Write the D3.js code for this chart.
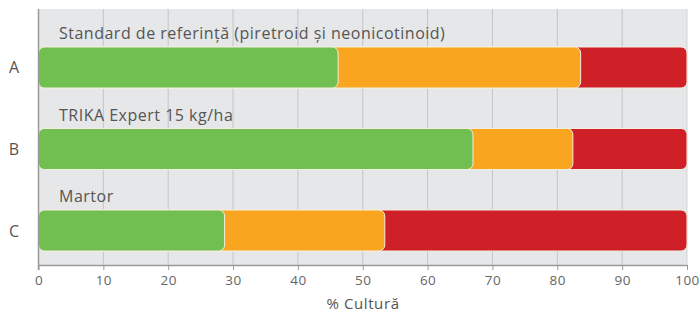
<!DOCTYPE html>
<html><head><meta charset="utf-8">
<script src="https://cdn.jsdelivr.net/npm/d3@7"></script>
<style>body{margin:0;background:#fff}svg{display:block}</style>
</head><body>
<svg id="c" width="700" height="313"></svg>
<script>
const categories = ["A","B","C"];
const labels = ["Standard de referință (piretroid și neonicotinoid)","TRIKA Expert 15 kg/ha","Martor"];
const green = [46.2, 67.0, 28.7];
const orange = [37.4, 15.4, 24.7];
const red = [16.4, 17.6, 46.6];
const ticks = [0,10,20,30,40,50,60,70,80,90,100];
const axisTitle = "% Cultură";

(function(){
const svg = d3.select("#c");
const font = "'Open Sans', sans-serif";
const L = 38.5, R = 687, T = 9, B = 265;
const x = d3.scaleLinear().domain([0,100]).range([L,R]);
const y = d3.scaleBand().domain(categories).range([47, 251]).paddingInner(0.497).paddingOuter(0);

svg.append("rect").attr("x",L).attr("y",T).attr("width",R-L).attr("height",B-T).attr("fill","#e6e7e8");
svg.append("line").attr("x1",R).attr("x2",R).attr("y1",T).attr("y2",B).attr("stroke","#d2d3d4");
svg.append("g").selectAll("line").data(ticks.slice(1,-1)).join("line")
  .attr("x1",d=>x(d)).attr("x2",d=>x(d)).attr("y1",T).attr("y2",B)
  .attr("stroke","#c4c5c6").attr("stroke-width",1);

const colors = ["#cf1f27","#f9a51f","#71bf50"];
categories.forEach((c,i)=>{
  const cum = [green[i]+orange[i]+red[i], green[i]+orange[i], green[i]];
  const g = svg.append("g");
  g.selectAll("rect").data(cum).join("rect")
    .attr("x",x(0)).attr("y",y(c)).attr("height",y.bandwidth())
    .attr("width",d=>x(d)-x(0)).attr("rx",6).attr("ry",6)
    .attr("fill",(d,j)=>colors[j]).attr("stroke","#f3eee0").attr("stroke-width",1);
  svg.append("text").attr("x",59).attr("y",y(c)-8).text(labels[i])
    .attr("font-family",font).attr("font-size",16).attr("letter-spacing",0.5).attr("fill","#555");
  svg.append("text").attr("x",14).attr("y",y(c)+y.bandwidth()/2+6).text(c)
    .attr("font-family",font).attr("font-size",16).attr("fill","#555").attr("text-anchor","middle");
});

const ax = svg.append("g").attr("transform",`translate(0,${B})`)
  .call(d3.axisBottom(x).tickValues(ticks).tickSize(5).tickSizeOuter(0).tickPadding(5));
ax.select(".domain").attr("stroke","#9a9a9a").attr("stroke-width",1.5);
ax.selectAll(".tick line").attr("stroke","#9a9a9a");
ax.selectAll("text").attr("font-family",font).attr("font-size",13.5).attr("letter-spacing",0.5).attr("fill","#666");
svg.append("line").attr("x1",L).attr("x2",L).attr("y1",T).attr("y2",B+5).attr("stroke","#9a9a9a").attr("stroke-width",1.5);

svg.append("text").attr("x",363).attr("y",309).attr("text-anchor","middle").text(axisTitle)
  .attr("font-family",font).attr("font-size",15).attr("letter-spacing",0.6).attr("fill","#555");
})();
</script>
</body></html>
